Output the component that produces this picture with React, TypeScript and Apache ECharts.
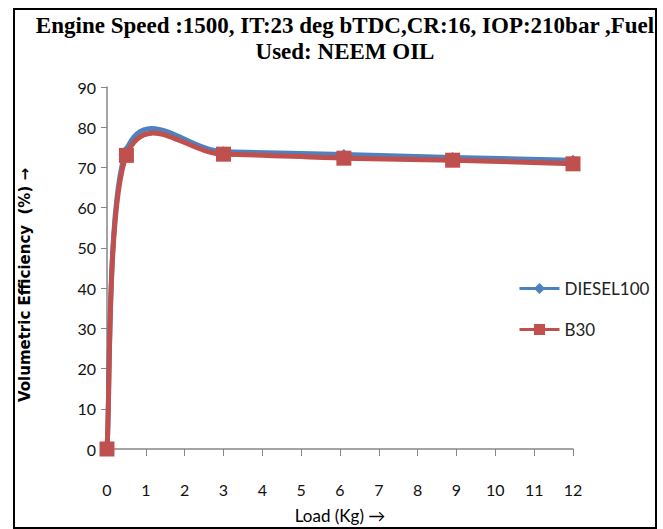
import React, { useEffect, useRef } from "react";
import * as echarts from "echarts";

const loads = [0, 0.5, 3, 6.1, 8.9, 12];
const diesel100 = [0, 74.3, 73.9, 73.2, 72.5, 71.8];
const b30 = [0, 73, 73.3, 72.3, 71.8, 70.9];
const seriesNames = ["DIESEL100", "B30"];
const seriesColors = ["#4F81BD", "#C0504D"];
const titleText = "Engine Speed :1500, IT:23 deg bTDC,CR:16, IOP:210bar ,Fuel\nUsed: NEEM OIL";
const xName = "Load (Kg) \u2192";
const yName = "Volumetric Efficiency  (%) \u2192";

// Excel-like smoothed curve (Catmull-Rom, tension 1/6) in pixel space
function makeCurve(ys: number[], color: string, name: string, z: number) {
  return {
    name,
    type: "custom",
    z,
    silent: true,
    data: loads.map((x, i) => [x, ys[i]]),
    encode: { x: 0, y: 1 },
    renderItem: (params: any, api: any) => {
      if (params.dataIndex !== 0) return null;
      const pts = loads.map((x, k) => api.coord([x, ys[k]]));
      const n = pts.length;
      let d = `M${pts[0][0]},${pts[0][1]}`;
      for (let i = 0; i < n - 1; i++) {
        const p0 = pts[Math.max(i - 1, 0)];
        const p1 = pts[i];
        const p2 = pts[i + 1];
        const p3 = pts[Math.min(i + 2, n - 1)];
        const t = 1 / 6;
        const c1x = p1[0] + (p2[0] - p0[0]) * t;
        const c1y = p1[1] + (p2[1] - p0[1]) * t;
        const c2x = p2[0] - (p3[0] - p1[0]) * t;
        const c2y = p2[1] - (p3[1] - p1[1]) * t;
        d += ` C${c1x},${c1y} ${c2x},${c2y} ${p2[0]},${p2[1]}`;
      }
      return {
        type: "path",
        shape: { pathData: d },
        style: { stroke: color, lineWidth: 5, fill: "none", lineJoin: "round", lineCap: "round" },
      };
    },
  };
}

export default function App() {
  const ref = useRef<HTMLDivElement>(null);
  useEffect(() => {
    if (!ref.current) return;
    const chart = echarts.init(ref.current, undefined, { renderer: "svg" });
    const labelFont = "Lato, 'Open Sans', sans-serif";
    chart.setOption({
      animation: false,
      backgroundColor: "#fff",
      title: {
        text: titleText,
        left: 340,
        textAlign: "center",
        top: 7,
        textStyle: {
          fontFamily: "'Liberation Serif', 'DejaVu Serif', serif",
          fontWeight: "bold",
          fontSize: 23,
          lineHeight: 26,
          color: "#000",
        },
      },
      graphic: [
        {
          type: "rect",
          shape: { x: 14, y: 9, width: 642, height: 519 },
          style: { fill: "none", stroke: "#000", lineWidth: 2 },
          silent: true,
          z: -1,
        },
      ],
      legend: {
        orient: "vertical",
        left: 518,
        top: 280,
        padding: 0,
        itemWidth: 40,
        itemHeight: 14,
        itemGap: 24,
        textStyle: { fontFamily: labelFont, fontSize: 17, color: "#222" },
        data: seriesNames.map((nm, i) => ({
          name: nm,
          lineStyle: { opacity: 1, width: 3, color: seriesColors[i] },
        })),
      },
      grid: { left: 107, right: 90, top: 87, bottom: 72, containLabel: false },
      xAxis: {
        type: "value",
        min: 0,
        max: 12,
        interval: 1,
        name: xName,
        nameLocation: "middle",
        nameGap: 58,
        nameTextStyle: { fontFamily: labelFont, fontSize: 17, color: "#000" },
        axisLine: { show: true, lineStyle: { color: "#868686", width: 1.5 } },
        axisTick: { show: true, inside: false, length: 7, lineStyle: { color: "#868686" } },
        axisLabel: { margin: 32, fontFamily: labelFont, fontSize: 16, color: "#111" },
        splitLine: { show: false },
      },
      yAxis: {
        type: "value",
        min: 0,
        max: 90,
        interval: 10,
        name: yName,
        nameLocation: "middle",
        nameGap: 75,
        nameTextStyle: {
          fontFamily: "'DejaVu Sans', sans-serif",
          fontSize: 15,
          fontWeight: "bold",
          color: "#000",
          padding: [0, 34, 0, 0],
        },
        axisLine: { show: true, lineStyle: { color: "#868686", width: 1.5 } },
        axisTick: { show: true, inside: false, length: 6, lineStyle: { color: "#868686" } },
        axisLabel: { margin: 11, fontFamily: labelFont, fontSize: 16, color: "#111" },
        splitLine: { show: false },
      },
      series: [
        {
          name: seriesNames[0],
          type: "line",
          z: 3,
          data: loads.map((x, i) => [x, diesel100[i]]),
          symbol: "diamond",
          symbolSize: 11,
          itemStyle: { color: seriesColors[0] },
          lineStyle: { color: seriesColors[0], width: 5, opacity: 0 },
        },
        {
          name: seriesNames[1],
          type: "line",
          z: 5,
          data: loads.map((x, i) => [x, b30[i]]),
          symbol: "rect",
          symbolSize: 15,
          itemStyle: { color: seriesColors[1] },
          lineStyle: { color: seriesColors[1], width: 5, opacity: 0 },
        },
        makeCurve(diesel100, seriesColors[0], seriesNames[0], 2),
        makeCurve(b30, seriesColors[1], seriesNames[1], 4),
      ],
    });
    return () => chart.dispose();
  }, []);
  return (
    <div
      ref={ref}
      style={{ position: "fixed", left: 0, top: 0, width: 663, height: 529 }}
    />
  );
}
